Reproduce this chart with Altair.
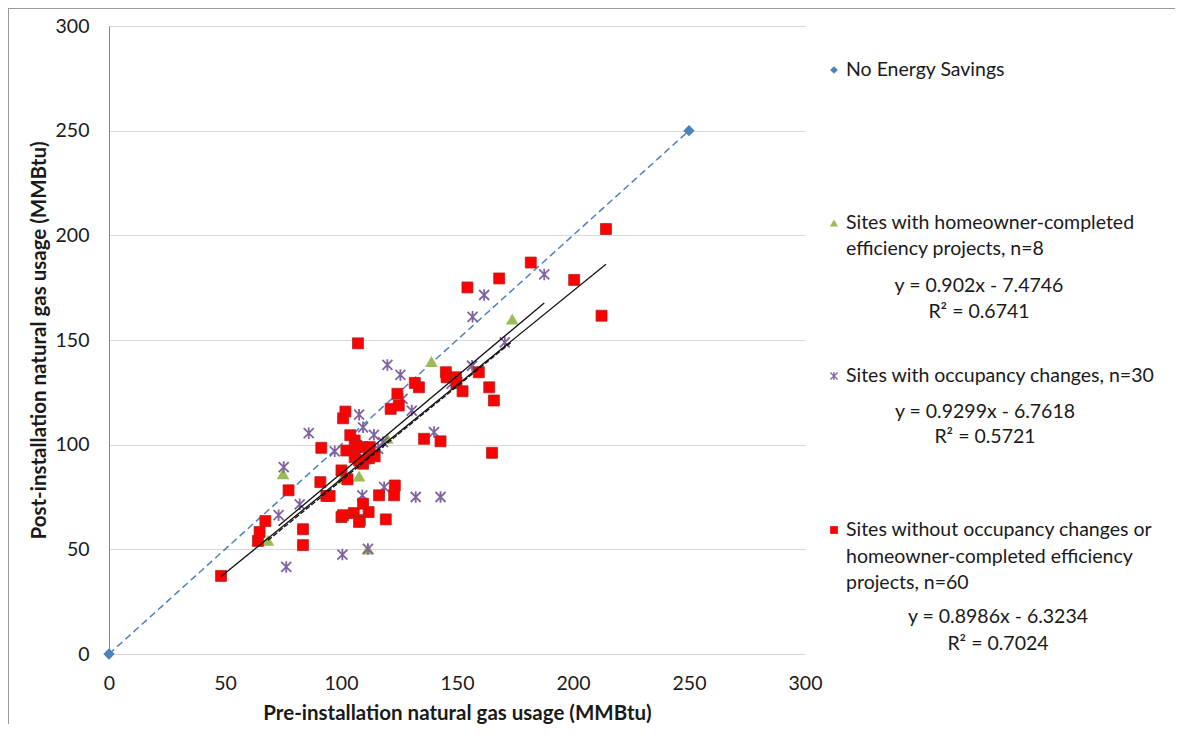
import altair as alt
import pandas as pd

# ---- data ----
nes_x = [0, 250]
nes_y = [0, 250]

green_x = [75.0, 68.5, 107.8, 111.6, 139.0, 173.8, 100.5, 120.0]
green_y = [86.1, 54.3, 85.0, 50.2, 139.7, 160.0, 84.0, 103.0]

purple_x = [120.0, 125.6, 130.5, 107.8, 109.5, 114.2, 86.1, 97.3, 75.3, 82.2,
            73.1, 76.4, 100.6, 111.6, 109.2, 118.6, 132.2, 142.9, 140.1, 187.6,
            161.7, 156.7, 170.6, 156.5, 147.6, 126.5, 118.1, 106.0, 110.5, 116.0]
purple_y = [138.1, 133.3, 116.3, 114.3, 108.3, 104.7, 105.5, 96.8, 89.3, 71.5,
            66.3, 41.6, 47.5, 50.2, 75.8, 79.7, 75.0, 75.0, 106.0, 181.3,
            171.5, 161.1, 148.9, 137.7, 129.0, 121.9, 101.2, 95.5, 93.0, 98.0]

red_x = [48.3, 64.2, 64.9, 67.4, 77.4, 83.6, 83.6, 91.1, 91.5, 93.7,
         95.1, 100.2, 102.8, 100.9, 101.9, 107.3, 102.3, 105.9, 106.6, 109.5,
         112.4, 114.5, 105.9, 109.5, 107.8, 109.5, 111.9, 105.5, 108.1, 107.8,
         100.2, 100.9, 119.3, 116.4, 123.2, 122.9, 121.4, 124.9, 124.3, 131.8,
         133.6, 135.8, 142.9, 145.2, 145.5, 149.5, 149.8, 152.4, 159.4, 163.9,
         165.9, 165.1, 154.5, 168.2, 181.8, 200.5, 212.3, 214.2, 104.0, 112.0]
red_y = [37.3, 54.0, 58.3, 63.5, 78.2, 59.6, 52.0, 82.1, 98.5, 75.5,
         75.5, 87.7, 83.4, 112.6, 115.8, 148.4, 97.2, 102.0, 99.5, 98.8,
         98.8, 94.4, 94.0, 90.9, 92.4, 71.8, 67.8, 67.3, 63.9, 63.1,
         65.4, 66.3, 64.3, 75.8, 80.5, 75.8, 117.1, 118.7, 124.3, 129.5,
         127.4, 102.8, 101.6, 134.6, 132.2, 132.2, 129.8, 125.5, 134.6, 127.4,
         121.1, 96.1, 175.1, 179.4, 187.0, 178.7, 161.6, 203.0, 104.5, 93.5]

# trend line coefficients printed on the chart
trend_names = ["green", "purple", "red"]
trend_slopes = [0.902, 0.9299, 0.8986]
trend_intercepts = [-7.4746, -6.7618, -6.3234]

tick_values = [0, 50, 100, 150, 200, 250, 300]

FONT = "Lato"
TXT = "#1a1a1a"
LBL = 19.5
TTL = 20.5

# ---- tables ----
nes_df = pd.DataFrame({"x": nes_x, "y": nes_y})
green_df = pd.DataFrame({"x": green_x, "y": green_y})
purple_df = pd.DataFrame({"x": purple_x, "y": purple_y})
red_df = pd.DataFrame({"x": red_x, "y": red_y})

ranges = {"green": green_x, "purple": purple_x, "red": red_x}
rows = []
for n, s, b in zip(trend_names, trend_slopes, trend_intercepts):
    for xv in (min(ranges[n]), max(ranges[n])):
        rows.append({"x": xv, "y": s * xv + b, "series": n})
trend_df = pd.DataFrame(rows)

xaxis = alt.Axis(values=tick_values, grid=False, ticks=False, tickSize=0,
                 domainColor="#d9d9d9", domainWidth=1, labelFlush=False,
                 labelFont=FONT, labelFontSize=LBL, labelColor=TXT,
                 labelPadding=29, labelBaseline="middle",
                 title="Pre-installation natural gas usage (MMBtu)",
                 titleFont=FONT, titleFontSize=TTL, titleFontWeight="bold",
                 titleColor=TXT, titleY=59, titleBaseline="middle")
yaxis = alt.Axis(values=tick_values, grid=True, gridColor="#d9d9d9", gridWidth=1,
                 ticks=False, tickSize=0, domainColor="#878787", domainWidth=1,
                 labelFlush=False,
                 labelFont=FONT, labelFontSize=LBL, labelColor=TXT,
                 labelPadding=20, labelBaseline="middle",
                 title="Post-installation natural gas usage (MMBtu)",
                 titleFont=FONT, titleFontSize=TTL, titleFontWeight="bold",
                 titleColor=TXT, titleX=-70, titleY=314, titleBaseline="middle")

X = alt.X("x:Q", scale=alt.Scale(domain=[0, 300], nice=False), axis=xaxis)
Y = alt.Y("y:Q", scale=alt.Scale(domain=[0, 300], nice=False), axis=yaxis)

STAR = "M-1,-1L1,1M-1,1L1,-1M0,-1.15L0,1.15"

nes_line = alt.Chart(nes_df).mark_line(color="#4F81BD", strokeWidth=1.5,
                                      strokeDash=[7, 4]).encode(x=X, y=Y)
nes_pts = alt.Chart(nes_df).mark_point(shape="diamond", filled=True, color="#4F81BD",
                                       size=130, opacity=1).encode(x=X, y=Y)
green_pts = alt.Chart(green_df).mark_point(shape="triangle-up", filled=True,
                                           color="#9BBB59", size=160, opacity=1).encode(x=X, y=Y)
purple_pts = alt.Chart(purple_df).mark_point(shape=STAR, filled=False, color="#8064A2",
                                             size=100, strokeWidth=1.8, opacity=1).encode(x=X, y=Y)
red_pts = alt.Chart(red_df).mark_point(shape="square", filled=True, fill="#FF0000",
                                       stroke="#B22222", strokeWidth=0.8,
                                       size=120, opacity=1).encode(x=X, y=Y)

trend_solid = alt.Chart(trend_df).transform_filter(
    alt.FieldOneOfPredicate(field="series", oneOf=["purple", "red"])
).mark_line(color="#111111", strokeWidth=1.3).encode(x=X, y=Y, detail="series:N")
trend_dash = alt.Chart(trend_df).transform_filter(
    alt.FieldEqualPredicate(field="series", equal="green")
).mark_line(color="#111111", strokeWidth=1.3, strokeDash=[5, 2]).encode(x=X, y=Y)

# ---- custom legend (right side) ----
one = alt.Data(values=[{"k": 1}])


def txt(s, x, y, align="left"):
    return alt.Chart(one).mark_text(font=FONT, fontSize=LBL, color=TXT, align=align,
                                    baseline="middle").encode(
        x=alt.value(x), y=alt.value(y), text=alt.value(s))


def sym(shape, x, y, **kw):
    return alt.Chart(one).mark_point(shape=shape, opacity=1, **kw).encode(
        x=alt.value(x), y=alt.value(y))


LX = 725
TX = 737
legend = [
    sym("diamond", LX, 44, filled=True, color="#4F81BD", size=60),
    txt("No Energy Savings", TX, 44),
    sym("triangle-up", LX, 197, filled=True, color="#9BBB59", size=70),
    txt("Sites with homeowner-completed", TX, 197),
    txt("efficiency projects, n=8", TX, 223),
    txt("y = 0.902x - 7.4746", 870, 260, "center"),
    txt("R² = 0.6741", 870, 286, "center"),
    sym(STAR, LX, 350, filled=False, color="#8064A2", size=50, strokeWidth=1.3),
    txt("Sites with occupancy changes, n=30", TX, 350),
    txt("y = 0.9299x - 6.7618", 876, 386, "center"),
    txt("R² = 0.5721", 876, 411, "center"),
    sym("square", LX, 504, filled=True, color="#FF0000", size=60),
    txt("Sites without occupancy changes or", TX, 504),
    txt("homeowner-completed efficiency", TX, 531),
    txt("projects, n=60", TX, 557),
    txt("y = 0.8986x - 6.3234", 889, 591, "center"),
    txt("R² = 0.7024", 889, 618, "center"),
]

# chart-area frame (top and left edges)
frame_top = alt.Chart(one).mark_rule(color="#9a9a9a", strokeWidth=1).encode(
    x=alt.value(-101), x2=alt.value(1075), y=alt.value(-17.5))
frame_left = alt.Chart(one).mark_rule(color="#9a9a9a", strokeWidth=1).encode(
    x=alt.value(-100.5), y=alt.value(-18), y2=alt.value(720))

chart = alt.layer(
    nes_line, nes_pts, green_pts, purple_pts, red_pts, trend_dash, trend_solid,
    *legend, frame_top, frame_left
).properties(
    width=696, height=628,
    padding={"left": 101, "top": 18, "right": 370, "bottom": 70},
    autosize=alt.AutoSizeParams(type="none"),
    background="white",
).configure_view(strokeWidth=0)

chart.save("out.html", embed_options={"renderer": "svg", "actions": False})
